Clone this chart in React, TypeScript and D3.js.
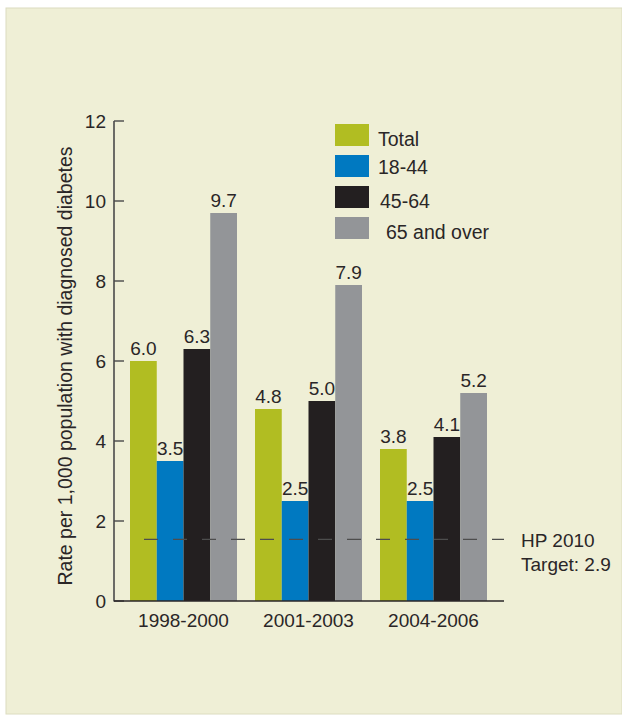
import * as d3 from 'd3'

const periods = ['1998-2000', '2001-2003', '2004-2006']
const groups = ['Total', '18-44', '45-64', '65 and over']
const total = [6.0, 4.8, 3.8]
const age18to44 = [3.5, 2.5, 2.5]
const age45to64 = [6.3, 5.0, 4.1]
const age65plus = [9.7, 7.9, 5.2]
const yTicks = [0, 2, 4, 6, 8, 10, 12]
// the dashed reference line sits at this height in the original, not at 2.9
const targetLineAt = 1.54
const targetLabel = ['HP 2010', 'Target: 2.9']

const colors = ['#b1bd22', '#0079c1', '#231f20', '#939598']
const ink = '#2a2627'
const font = 'Liberation Sans, Arial, Helvetica, sans-serif'

export default function App() {
  const W = 622
  const H = 715
  const series = [total, age18to44, age45to64, age65plus]

  const y = d3.scaleLinear().domain([0, 12]).range([601, 121])
  const x0 = d3.scaleBand<string>().domain(periods).range([130, 487]).paddingInner(0.144)
  const x1 = d3.scaleBand<string>().domain(groups).range([0, x0.bandwidth()])

  const axisX = 114
  const axisEnd = 504

  return (
    <svg width={W} height={H} style={{ position: 'absolute', left: 0, top: 0, fontFamily: font }}>
      <rect x={6} y={8} width={616} height={706} fill="#efefd6" stroke="#dcdcc0" strokeWidth={1} />

      {/* bars */}
      {periods.map((p, i) => (
        <g key={p} transform={`translate(${x0(p)},0)`}>
          {groups.map((g, j) => {
            const v = series[j][i]
            const bx = x1(g)!
            return (
              <g key={g}>
                <rect x={bx} y={y(v)} width={x1.bandwidth()} height={y(0) - y(v)} fill={colors[j]} />
                <text x={bx + x1.bandwidth() / 2} y={y(v) - 6.5} textAnchor="middle" fontSize={19} fill={ink}>
                  {v.toFixed(1)}
                </text>
              </g>
            )
          })}
        </g>
      ))}

      {/* target line */}
      <line x1={144} x2={axisEnd} y1={y(targetLineAt)} y2={y(targetLineAt)}
        stroke="#4d4d4d" strokeWidth={1.2} strokeDasharray="14 15" />
      <text x={521} y={547} fontSize={19} fill={ink}>{targetLabel[0]}</text>
      <text x={521} y={571} fontSize={19} fill={ink}>{targetLabel[1]}</text>

      {/* y axis */}
      <line x1={axisX} x2={axisX} y1={y(12)} y2={y(0) + 0.5} stroke="#4a4a4a" strokeWidth={1.6} />
      {yTicks.map(t => (
        <g key={t}>
          <line x1={axisX} x2={axisX + 10} y1={y(t)} y2={y(t)} stroke="#4a4a4a" strokeWidth={1.4} />
          <text x={106} y={y(t)} dy="0.36em" textAnchor="end" fontSize={19} fill={ink}>{t}</text>
        </g>
      ))}
      <line x1={axisX} x2={axisEnd} y1={y(0)} y2={y(0)} stroke={ink} strokeWidth={1.6} />

      {/* category labels */}
      {periods.map(p => (
        <text key={p} x={x0(p)! + x0.bandwidth() / 2} y={627} textAnchor="middle" fontSize={19} fill={ink}>{p}</text>
      ))}

      <text transform={`translate(72,366) rotate(-90)`} textAnchor="middle" fontSize={19.5} fill={ink}>
        Rate per 1,000 population with diagnosed diabetes
      </text>

      {/* legend */}
      {groups.map((g, j) => (
        <g key={g} transform={`translate(335,${124 + j * 31})`}>
          <rect x={0} y={0} width={34} height={22} fill={colors[j]} />
          <text x={j === 3 ? 51 : 43 + (j === 2 ? 2 : 0)} y={j === 0 ? 22 : j === 1 ? 19 : 22} fontSize={19.5} fill={ink}>{g}</text>
        </g>
      ))}
    </svg>
  )
}
